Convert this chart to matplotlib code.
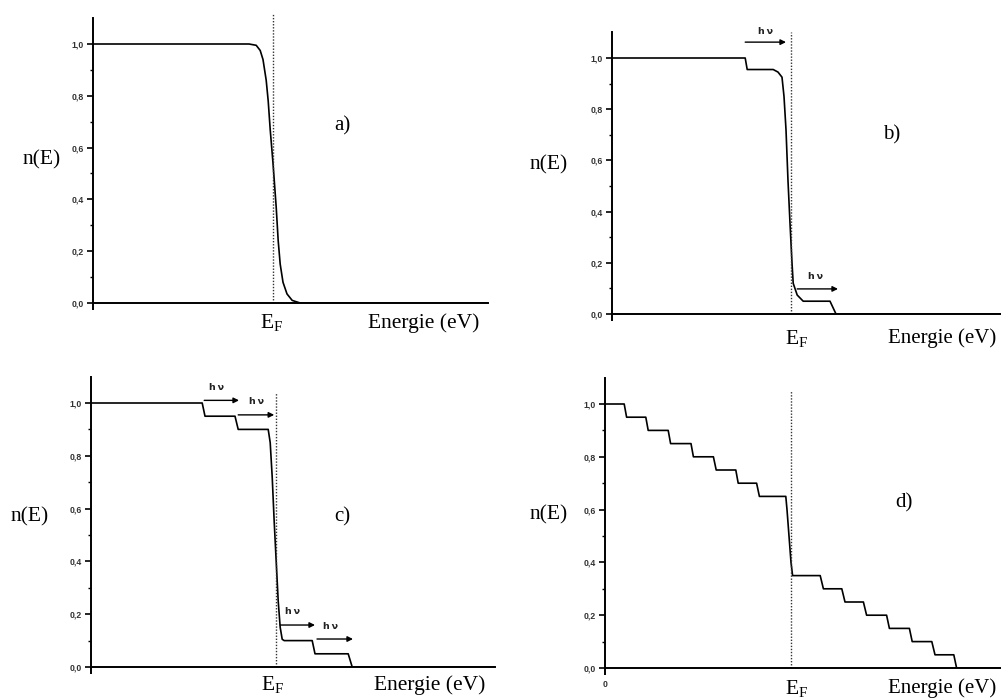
import numpy as np
import matplotlib
matplotlib.use("Agg")
import matplotlib.pyplot as plt

# ================= TAMPILAN =================
plt.rcParams['font.family'] = 'Liberation Serif'
plt.rcParams['mathtext.fontset'] = 'custom'
plt.rcParams['mathtext.rm'] = 'Liberation Serif'
plt.rcParams['mathtext.it'] = 'Liberation Serif'

W_PX, H_PX = 1001, 698

# ================= DATA (energie en unites arbitraires) =================
# a) distribution de Fermi
A_E = [0.0, 3.9, 4.08, 4.18, 4.25, 4.33, 4.38, 4.43, 4.5, 4.58, 4.63, 4.68, 4.75, 4.85, 4.98, 5.18, 9.875]
A_N = [1.0, 1.0, 0.995, 0.975, 0.94, 0.86, 0.78, 0.67, 0.54, 0.37, 0.24, 0.15, 0.08, 0.035, 0.01, 0.0, 0.0]
A_EF = 4.5

# b) une excitation hv
B_E = [0.0, 3.33, 3.38, 4.03, 4.15, 4.25, 4.3, 4.35, 4.4, 4.45, 4.5, 4.53, 4.63, 4.78, 5.45, 5.6, 10.0]
B_N = [1.0, 1.0, 0.955, 0.955, 0.945, 0.925, 0.85, 0.72, 0.52, 0.355, 0.2, 0.12, 0.074, 0.05, 0.05, 0.0, 0.0]
B_EF = 4.475
B_ARROWS = [(3.33, 4.35, 1.062), (4.63, 5.65, 0.098)]
B_HV = [(3.83, 1.105), (5.08, 0.145)]

# c) deux excitations hv
C_E = [0.0, 2.78, 2.85, 3.6, 3.68, 4.43, 4.48, 4.53, 4.58, 4.63, 4.68, 4.73, 4.78, 4.83, 5.53, 5.6, 6.43, 6.53, 10.1]
C_N = [1.0, 1.0, 0.95, 0.95, 0.9, 0.9, 0.85, 0.72, 0.55, 0.4, 0.25, 0.15, 0.105, 0.1, 0.1, 0.05, 0.05, 0.0, 0.0]
C_EF = 4.625
C_ARROWS = [(2.83, 3.7, 1.01), (3.68, 4.58, 0.955), (4.73, 5.6, 0.159), (5.65, 6.55, 0.106)]
C_HV = [(3.15, 1.06), (4.15, 1.004), (5.05, 0.212), (6.0, 0.152)]

# d) excitations multiples
D_E = [0.0, 0.48, 0.54, 1.02, 1.08, 1.58, 1.64, 2.15, 2.21, 2.71, 2.78, 3.27, 3.33, 3.79, 3.86,
       4.52, 4.55, 4.6, 4.65, 4.69, 5.38, 5.46, 5.92, 6.0, 6.46, 6.54, 7.04, 7.11, 7.61, 7.68,
       8.17, 8.25, 8.72, 8.79, 10.0]
D_N = [1.0, 1.0, 0.95, 0.95, 0.9, 0.9, 0.85, 0.85, 0.8, 0.8, 0.75, 0.75, 0.7, 0.7, 0.65,
       0.65, 0.6, 0.5, 0.4, 0.35, 0.35, 0.3, 0.3, 0.25, 0.25, 0.2, 0.2, 0.15, 0.15, 0.1,
       0.1, 0.05, 0.05, 0.0, 0.0]
D_EF = 4.65

Y_TICKS = [0.0, 0.2, 0.4, 0.6, 0.8, 1.0]
Y_TICK_LABELS = ["0,0", "0,2", "0,4", "0,6", "0,8", "1,0"]

# posisi panel dalam piksel: (x0, y0 untuk n=0, px per unit n, lebar piksel, xmax)
PANELS = {
    "a": (93, 303, 259, 395, 9.875),
    "b": (612, 314, 256, 400, 10.0),
    "c": (91, 667, 264, 404, 10.1),
    "d": (605, 668, 264, 400, 10.0),
}

TICK_FONT = dict(fontfamily='Liberation Sans', fontweight='bold', fontsize=6.3, color='#333333')


def make_axes(fig, key):
    x0, y0, sc, wpx, xmax = PANELS[key]
    top = 1.1 * sc
    ax = fig.add_axes([x0 / W_PX, 1 - y0 / H_PX, wpx / W_PX, top / H_PX])
    ax.set_xlim(0, xmax)
    ax.set_ylim(0, 1.1)
    for s in ("top", "right"):
        ax.spines[s].set_visible(False)
    for s in ("left", "bottom"):
        ax.spines[s].set_linewidth(1.4)
    ax.set_yticks(Y_TICKS)
    ax.set_yticklabels(Y_TICK_LABELS, **TICK_FONT)
    ax.set_yticks(np.arange(0.1, 1.1, 0.2), minor=True)
    ax.tick_params(axis='y', which='major', length=4, width=1.2, pad=2.5)
    ax.tick_params(axis='y', which='minor', length=2.5, width=1.0)
    ax.set_xticks([0])
    ax.set_xticklabels([""])
    ax.tick_params(axis='x', length=5, width=1.4)
    ax.patch.set_alpha(0)
    return ax


def decorate(ax, ef, ef_top, letter, letter_pos, ne_pos, ef_lab, en_lab, en_size=15.5):
    ax.plot([ef, ef], [0, ef_top], linestyle=(0, (1, 1.2)), color='#333333', lw=1.0, clip_on=False)
    ax.text(*letter_pos, letter, fontsize=15, ha='center', va='center')
    ax.text(*ne_pos, "n(E)", fontsize=15.5, ha='center', va='center')
    ax.text(*ef_lab, r"$\mathrm{E_F}$", fontsize=15.5, ha='center', va='center', clip_on=False)
    ax.text(*en_lab, "Energie (eV)", fontsize=en_size, ha='left', va='center', clip_on=False)


def arrows(ax, arr, hv):
    for (x1, x2, y) in arr:
        ax.annotate('', xy=(x2, y), xytext=(x1, y), annotation_clip=False,
                    arrowprops=dict(arrowstyle='-|>', lw=1.0, color='black',
                                    mutation_scale=8, shrinkA=0, shrinkB=0))
    for (x, y) in hv:
        ax.text(x, y, "h\u2009ν", fontfamily='DejaVu Sans', fontweight='bold', fontsize=6.8,
                ha='center', va='center', color='#222222')


fig = plt.figure(figsize=(W_PX / 100, H_PX / 100), dpi=100)

ax_a = make_axes(fig, "a")
ax_a.plot(A_E, A_N, color='black', lw=1.2)
decorate(ax_a, A_EF, 1.12, "a)", (6.225, 0.683), (-1.275, 0.552), (4.475, -0.077), (6.875, -0.077))

ax_b = make_axes(fig, "b")
ax_b.plot(B_E, B_N, color='black', lw=1.2)
decorate(ax_b, B_EF, 1.10, "b)", (7.0, 0.70), (-1.575, 0.582), (4.625, -0.094), (6.9, -0.094), en_size=15)
arrows(ax_b, B_ARROWS, B_HV)

ax_c = make_axes(fig, "c")
ax_c.plot(C_E, C_N, color='black', lw=1.2)
decorate(ax_c, C_EF, 1.04, "c)", (6.275, 0.568), (-1.525, 0.568), (4.55, -0.068), (7.075, -0.068))
arrows(ax_c, C_ARROWS, C_HV)

ax_d = make_axes(fig, "d")
ax_d.plot(D_E, D_N, color='black', lw=1.2)
decorate(ax_d, D_EF, 1.05, "d)", (7.475, 0.625), (-1.4, 0.58), (4.8, -0.076), (7.075, -0.076), en_size=15)
ax_d.set_xticklabels(["0"], **TICK_FONT)

fig.savefig("out.png", dpi=100)
